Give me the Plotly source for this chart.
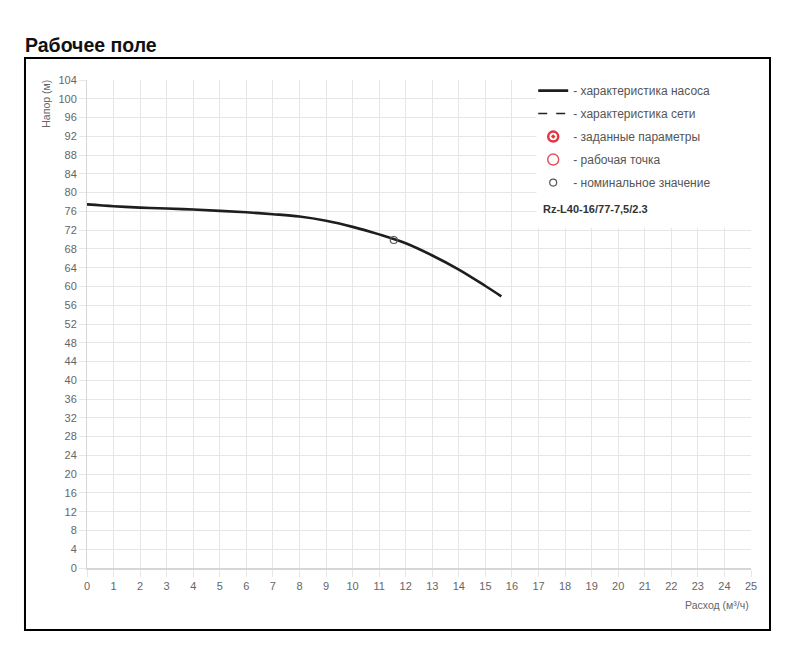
import plotly.graph_objects as go

# характеристика насоса (Q, м3/ч -> H, м)
flow = [0, 1, 2, 3, 4, 5, 6, 7, 8, 9, 10, 11, 12, 13, 14, 15, 15.6]
head = [77.5, 77.1, 76.8, 76.6, 76.4, 76.1, 75.8, 75.4, 74.9, 74.0,
        72.7, 71.1, 69.2, 66.6, 63.6, 60.1, 57.9]

# номинальное значение
nominal_q = [11.55]
nominal_h = [69.9]

x_ticks = list(range(0, 26))
y_ticks = list(range(0, 105, 4))

model_name = "Rz-L40-16/77-7,5/2.3"

TICK_COLOR = "#666666"
GRID_COLOR = "#e6e6e6"
FONT = "Liberation Sans, Arial, sans-serif"

fig = go.Figure()

fig.add_trace(go.Scatter(
    x=flow, y=head, mode="lines",
    line=dict(color="#1e1e1e", width=2.6, shape="spline"),
    name="- характеристика насоса", legendgroup="a",
))
fig.add_trace(go.Scatter(
    x=[None], y=[None], mode="lines",
    line=dict(color="#222222", width=1.5, dash="dash"),
    name="- характеристика сети", legendgroup="b",
))
fig.add_trace(go.Scatter(
    x=[None], y=[None], mode="markers",
    marker=dict(symbol="circle-open-dot", size=10, color="#e8323c",
                line=dict(width=2.5, color="#e8323c")),
    name="- заданные параметры", legendgroup="c",
))
fig.add_trace(go.Scatter(
    x=[None], y=[None], mode="markers",
    marker=dict(symbol="circle-open", size=11, color="#e8505a",
                line=dict(width=1.5, color="#e8505a")),
    name="- рабочая точка", legendgroup="d",
))
fig.add_trace(go.Scatter(
    x=nominal_q, y=nominal_h, mode="markers",
    marker=dict(symbol="circle-open", size=7, color="#555555",
                line=dict(width=1.2, color="#555555")),
    name="- номинальное значение", legendgroup="e",
))

fig.update_xaxes(
    range=[0, 25], tickvals=x_ticks, showgrid=True, gridcolor=GRID_COLOR,
    zeroline=False, showline=True, linecolor="#d6d6d6", linewidth=1.5,
    ticks="outside", ticklen=7, tickcolor=GRID_COLOR,
    tickfont=dict(size=11, color=TICK_COLOR, family=FONT),
    fixedrange=True,
)
fig.update_yaxes(
    range=[0, 104], tickvals=y_ticks, showgrid=True, gridcolor=GRID_COLOR,
    zeroline=False, showline=True, linecolor="#d6d6d6", linewidth=1,
    ticks="outside", ticklen=7, tickcolor=GRID_COLOR,
    tickfont=dict(size=11, color=TICK_COLOR, family=FONT),
    fixedrange=True,
)

fig.update_layout(
    width=800, height=665,
    margin=dict(l=79, r=57, t=72, b=105),
    paper_bgcolor="white", plot_bgcolor="white",
    font=dict(family=FONT, color="#555555"),
    showlegend=True,
    legend=dict(
        x=0.672, y=1.008, xanchor="left", yanchor="top",
        bgcolor="rgba(0,0,0,0)", font=dict(size=12, color="#555555"),
        traceorder="grouped", tracegroupgap=4, itemwidth=30,
    ),
    shapes=[
        # белая подложка под легендой
        dict(type="rect", xref="paper", yref="paper", layer="above",
             x0=0.677, x1=1.014, y0=0.697, y1=1.025,
             fillcolor="white", line=dict(width=0)),
        # рамка
        dict(type="rect", xref="paper", yref="paper", layer="above",
             x0=-0.0934, x1=1.0286, y0=-0.127, y1=1.045,
             line=dict(color="black", width=2)),
    ],
    annotations=[
        dict(text="<b>Рабочее поле</b>", xref="paper", yref="paper",
             x=-0.097, y=1.046, xanchor="left", yanchor="bottom",
             showarrow=False, font=dict(size=19.5, color="#111111", family=FONT)),
        dict(text="Напор (м)", xref="paper", yref="paper", textangle=-90,
             x=-0.063, y=1.005, xanchor="center", yanchor="top",
             showarrow=False, font=dict(size=10.5, color=TICK_COLOR, family=FONT)),
        dict(text="Расход (м³/ч)", xref="paper", yref="paper",
             x=1.0, y=-0.076, xanchor="right", yanchor="middle",
             showarrow=False, font=dict(size=10.5, color=TICK_COLOR, family=FONT)),
        dict(text="<b>" + model_name + "</b>", xref="paper", yref="paper",
             x=0.683, y=0.736, xanchor="left", yanchor="middle",
             showarrow=False, font=dict(size=11, color="#333333", family=FONT)),
    ],
)

fig.write_html("out.html")
